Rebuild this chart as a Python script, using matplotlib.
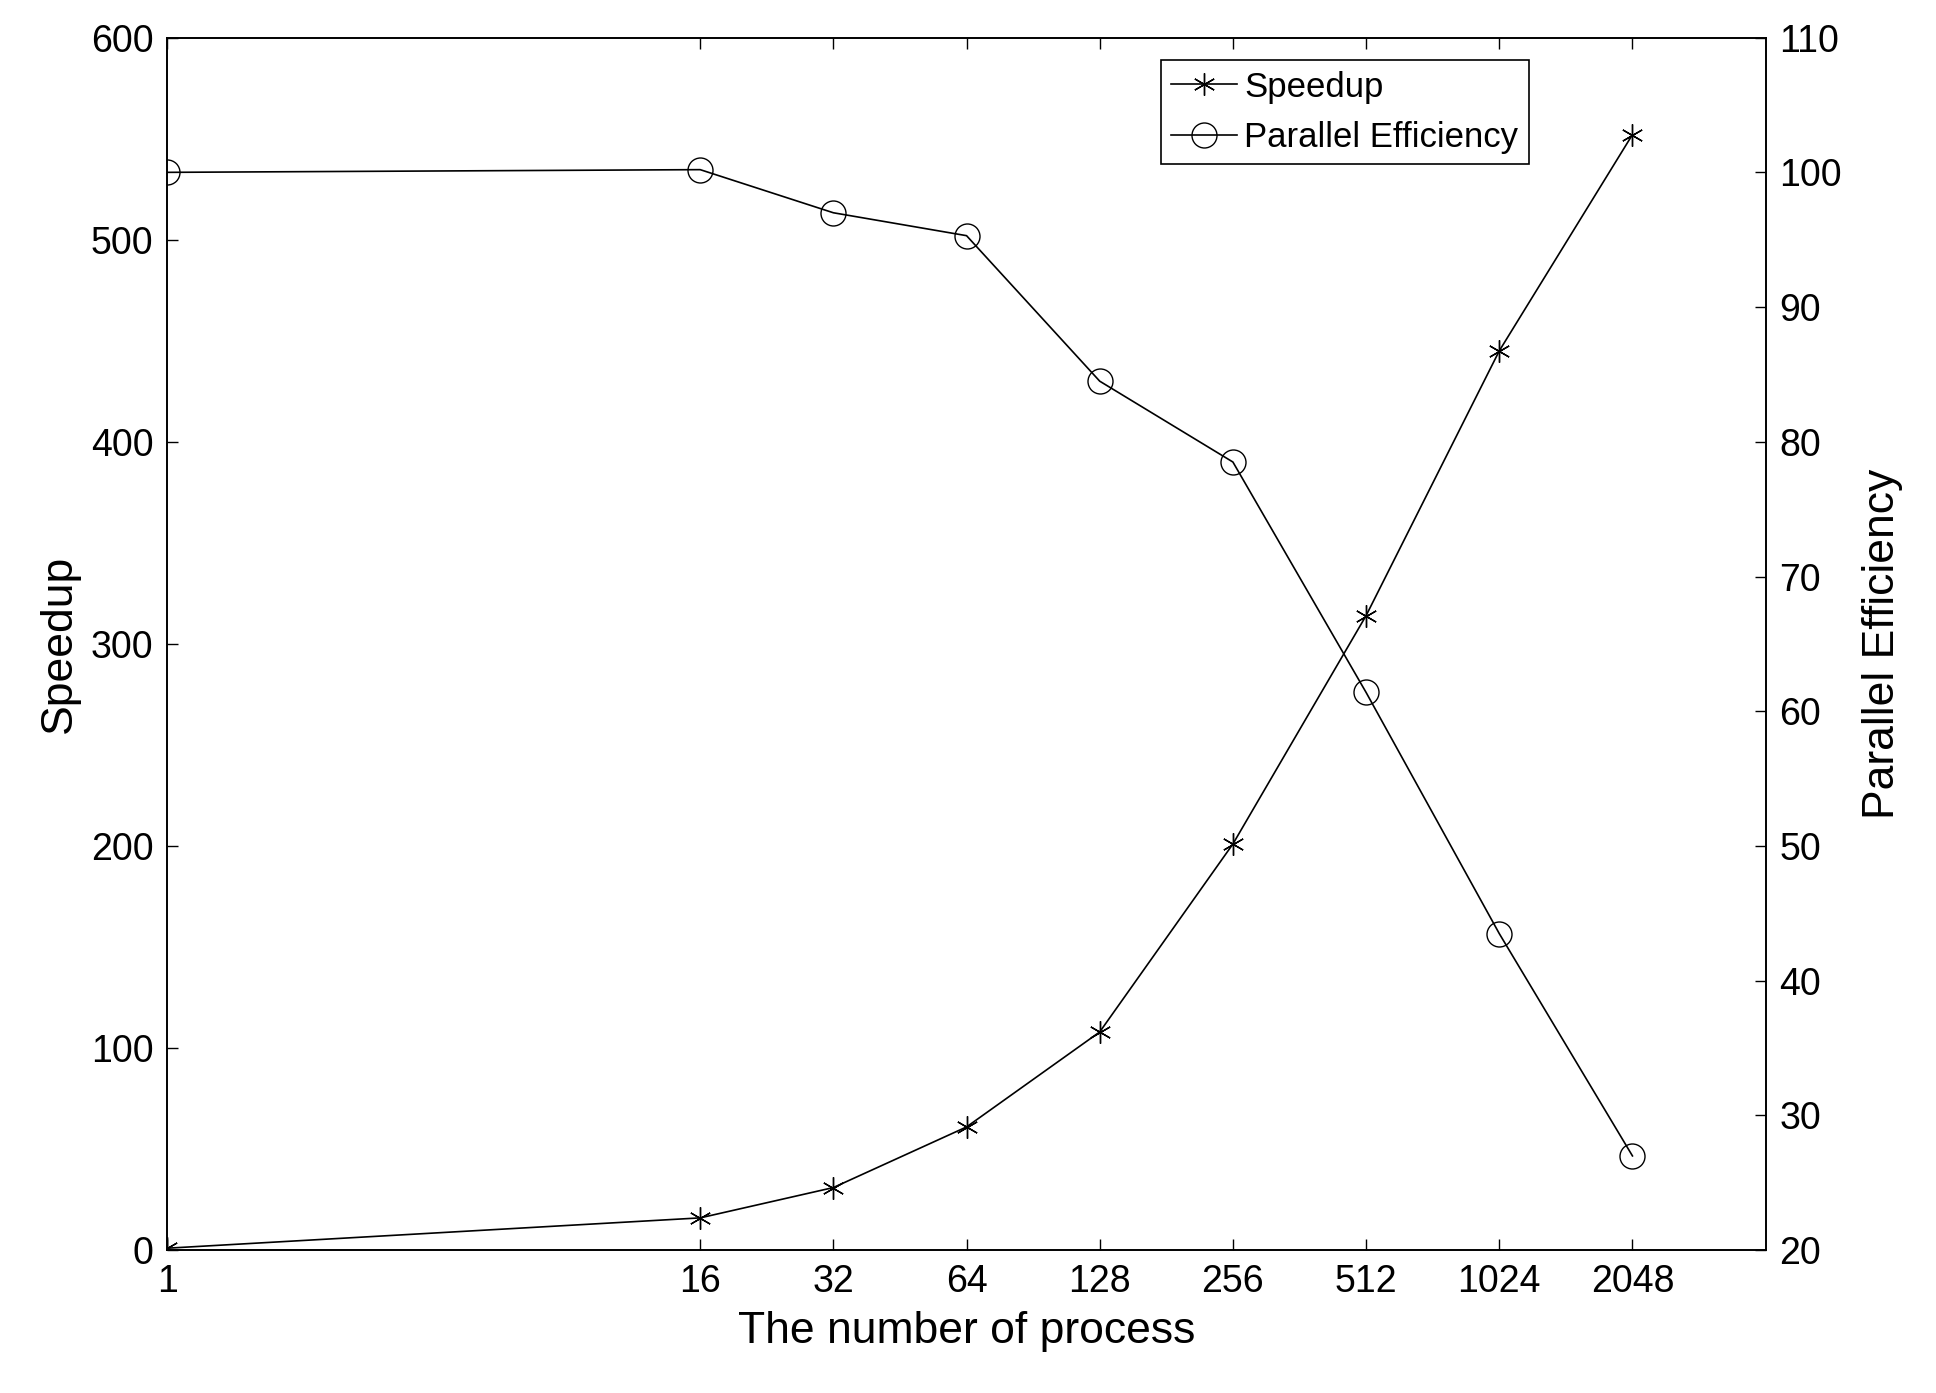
import matplotlib
matplotlib.use("Agg")
import matplotlib.pyplot as plt

# data
procs = [1, 16, 32, 64, 128, 256, 512, 1024, 2048]
speedup = [1, 16, 31, 61, 108, 201, 314, 445, 552]
efficiency = [100, 100.2, 97, 95.3, 84.5, 78.5, 61.4, 43.5, 27]

plt.rcParams['font.family'] = ['Liberation Sans', 'DejaVu Sans']

fig = plt.figure(figsize=(19.36, 13.93), dpi=100)
ax = fig.add_axes([0.0865, 0.1025, 0.8255, 0.8705])
ax2 = ax.twinx()

l1, = ax.plot(procs, speedup, 'k-', marker=(6, 2, 0), markersize=16, lw=1.2, label='Speedup')
l2, = ax2.plot(procs, efficiency, 'k-', marker='o', markersize=18, mfc='none', lw=1.2, label='Parallel Efficiency')

ax.set_xscale('log', base=2)
ax.set_xlim(1, 4096)
ax.set_xticks(procs)
ax.set_xticklabels([str(p) for p in procs])
ax.minorticks_off()
ax.set_ylim(0, 600)
ax.set_yticks(range(0, 601, 100))
ax2.set_ylim(20, 110)
ax2.set_yticks(range(20, 111, 10))

for a in (ax, ax2):
    a.tick_params(labelsize=27, direction='in', length=8, width=1, pad=10)
    for s in a.spines.values():
        s.set_linewidth(1.2)
ax.tick_params(top=True, which='both')

ax.set_xlabel('The number of process', fontsize=32, labelpad=8)
ax.set_ylabel('Speedup', fontsize=32, labelpad=8)
ax2.set_ylabel('Parallel Efficiency', fontsize=32, labelpad=14)

leg = ax.legend(handles=[l1, l2], loc='upper left', bbox_to_anchor=(0.615, 0.99),
                fontsize=25, fancybox=False, edgecolor='black', framealpha=1,
                handlelength=1.9, handletextpad=0.2, borderaxespad=0.3, borderpad=0.3)
leg.get_frame().set_linewidth(1.2)

fig.savefig('out.png', dpi=100)
